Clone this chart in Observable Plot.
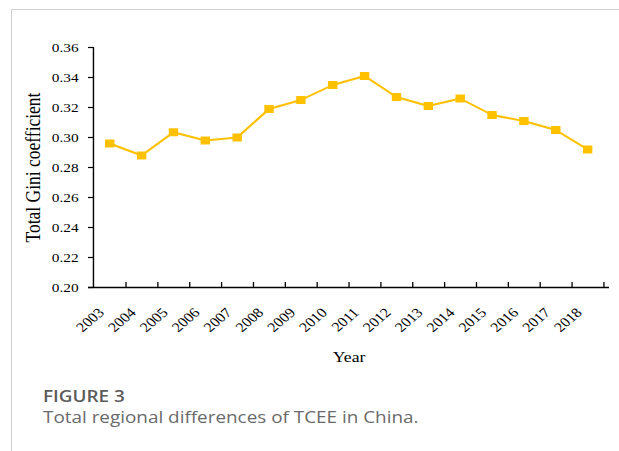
<!DOCTYPE html>
<html>
<head>
<meta charset="utf-8">
<script src="https://cdn.jsdelivr.net/npm/d3@7"></script>
<script src="https://cdn.jsdelivr.net/npm/@observablehq/plot@0.6"></script>
<style>
  html, body { margin: 0; padding: 0; background: #fff; }
  #wrap { position: relative; width: 619px; height: 451px; overflow: hidden; }
  #chart { position: absolute; left: 0; top: 0; transform-origin: 0 0; }
  #frame { position: absolute; left: 11px; top: 9px; right: 0; bottom: 0;
           border-top: 1px solid #cfcfcf; border-left: 1px solid #cfcfcf; }
  .fig { position: absolute; left: 43px; font-family: "Open Sans", sans-serif; white-space: nowrap;
         transform-origin: 0 0; }
  #figNum { top: 386px; font-size: 16px; font-weight: 600; color: #5b5b5b; line-height: 20px; }
  #figCap { top: 406px; font-size: 16px; color: #6a6a6a; line-height: 22px; }
</style>
</head>
<body>
<div id="wrap">
  <div id="chart"></div>
  <div id="frame"></div>
  <div class="fig" id="figNum">FIGURE 3</div>
  <div class="fig" id="figCap">Total regional differences of TCEE in China.</div>
</div>
<script>
const years = ["2003","2004","2005","2006","2007","2008","2009","2010","2011","2012","2013","2014","2015","2016","2017","2018"];
const gini = [0.296,0.288,0.3035,0.298,0.300,0.319,0.325,0.335,0.341,0.327,0.321,0.326,0.315,0.311,0.305,0.292];
const yTicks = [0.20,0.22,0.24,0.26,0.28,0.30,0.32,0.34,0.36];
const yLabel = "Total Gini coefficient";
const xLabel = "Year";
const figNum = "FIGURE 3";
const figCap = "Total regional differences of TCEE in China.";

const data = years.map((y, i) => ({year: y, value: gini[i]}));

// The reference figure is slightly stretched horizontally; reproduce with a CSS scale.
const S = 1.18;
const W = Math.round(619 / S), H = 380;
const ML = 88 / S, MR = W - 609 / S, MT = 47, MB = 93;
const bw = (W - ML - MR) / years.length;
const serif = "'Liberation Serif', 'Times New Roman', serif";
const gold = "#FFC000";

const chart = Plot.plot({
  width: W, height: H,
  marginLeft: ML, marginRight: MR, marginTop: MT, marginBottom: MB,
  style: {fontFamily: serif, fontSize: "13px", color: "#000", background: "transparent"},
  x: {type: "band", domain: years, padding: 0, axis: null},
  y: {domain: [0.20, 0.36], axis: null},
  marks: [
    // axis lines
    Plot.ruleY([0.20], {stroke: "#000", strokeWidth: 1.3}),
    Plot.ruleX([years[0]], {y1: 0.20, y2: 0.36, dx: -bw / 2, stroke: "#000", strokeWidth: 1.2}),
    // inward ticks
    Plot.tickX(years, {x: d => d, dx: bw / 2, insetTop: H - MT - MB - 5, stroke: "#000", strokeWidth: 1.1}),
    Plot.tickY(yTicks, {y: d => d, insetRight: W - ML - MR - 5 / S, stroke: "#000", strokeWidth: 1.2}),
    // tick labels
    Plot.axisX({tickSize: 0, tickPadding: 23, dx: -7, tickRotate: -45, fontSize: 13.5, label: null}),
    Plot.axisY(yTicks, {tickSize: 0, tickPadding: 8.5, tickFormat: d3.format(".2f"), fontSize: 13, label: null}),
    // axis titles
    Plot.text([yLabel], {frameAnchor: "left", rotate: -90, dx: 28 - ML, fontSize: 17.5, textAnchor: "middle", lineAnchor: "middle"}),
    Plot.text([xLabel], {frameAnchor: "bottom", dy: 70, fontSize: 15, lineAnchor: "middle"}),
    // data
    Plot.line(data, {x: "year", y: "value", stroke: gold, strokeWidth: 2}),
    Plot.dot(data, {x: "year", y: "value", symbol: "square", r: 4.5, fill: gold, stroke: "none"})
  ]
});
const host = document.getElementById("chart");
host.style.transform = `scale(${S}, 1)`;
host.append(chart);
document.getElementById("figNum").textContent = figNum;
document.getElementById("figCap").textContent = figCap;
for (const id of ["figNum", "figCap"]) document.getElementById(id).style.transform = `scale(${S}, 1)`;
</script>
</body>
</html>
